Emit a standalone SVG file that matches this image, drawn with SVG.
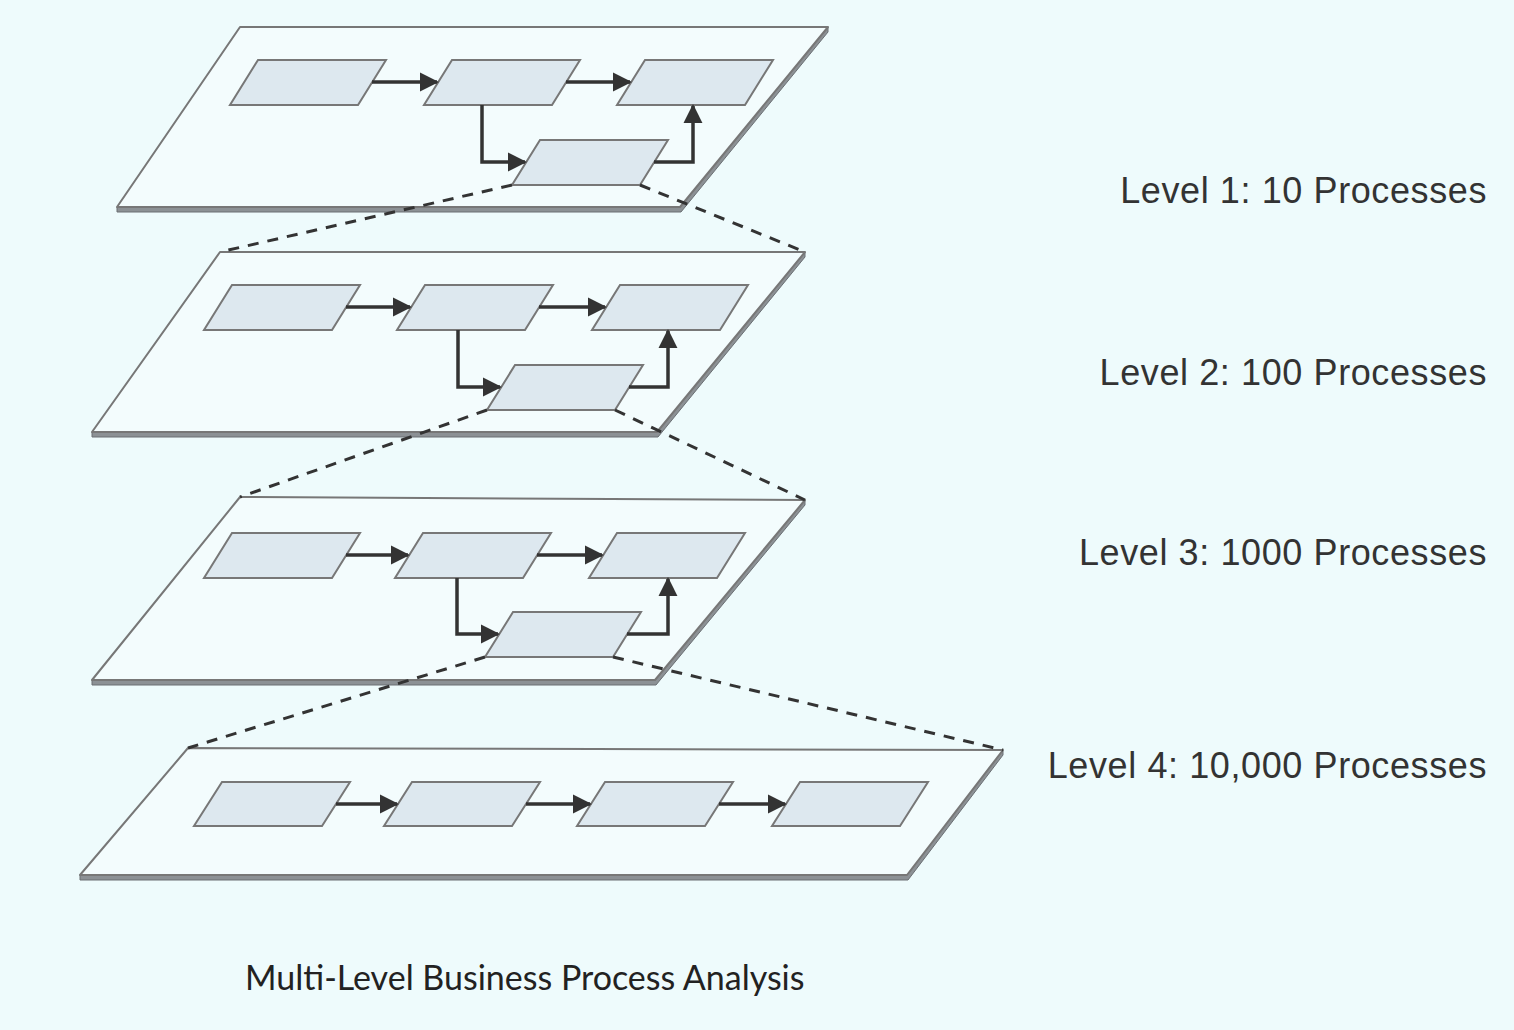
<svg xmlns="http://www.w3.org/2000/svg" width="1514" height="1030" viewBox="0 0 1514 1030">
<defs>
<marker id="ah" viewBox="0 0 10 10" refX="9" refY="5" markerWidth="5.5" markerHeight="5.5" orient="auto" markerUnits="strokeWidth">
<path d="M0,0 L10,5 L0,10 z" fill="#333"/>
</marker>
</defs>
<style>
.plane{fill:#f3fcfd;stroke:#777;stroke-width:2;stroke-linejoin:round}
.edge{fill:#8c9195;stroke:#6a6f73;stroke-width:1}
.box{fill:#dde8ef;stroke:#777;stroke-width:2}
.arr{fill:none;stroke:#333;stroke-width:3.5;marker-end:url(#ah)}
.dash{fill:none;stroke:#333;stroke-width:3;stroke-dasharray:11 9}
.lbl{font-family:"Liberation Sans",Arial,sans-serif;font-size:36px;letter-spacing:0.6px;fill:#333;text-anchor:end}
.cap{font-family:"Lato","Open Sans",sans-serif;font-size:34px;fill:#222}
</style>
<rect width="1514" height="1030" fill="#eefbfc"/>

<g id="plane1">
<polygon class="edge" points="117,207 680,207 828,27 828,32 681,212 117,212"/>
<polygon class="plane" points="240,27 828,27 680,207 117,207"/>
</g>
<g id="p1a"><polygon class="box" points="258,60 386,60 358,105 230,105"/></g>
<g id="p1b"><polygon class="box" points="452,60 580,60 552,105 424,105"/></g>
<g id="p1c"><polygon class="box" points="645,60 773,60 745,105 617,105"/></g>
<g id="p1d"><polygon class="box" points="540,140 668,140 640,185 512,185"/></g>

<g id="plane2">
<polygon class="edge" points="92,432 657,432 805,252 805,257 658,437 92,437"/>
<polygon class="plane" points="220,252 805,252 657,432 92,432"/>
</g>
<g id="p2a"><polygon class="box" points="232,285 360,285 332,330 204,330"/></g>
<g id="p2b"><polygon class="box" points="425,285 553,285 525,330 397,330"/></g>
<g id="p2c"><polygon class="box" points="620,285 748,285 720,330 592,330"/></g>
<g id="p2d"><polygon class="box" points="515,365 643,365 615,410 487,410"/></g>

<g id="plane3">
<polygon class="edge" points="92,680 655,680 805,500 805,505 656,685 92,685"/>
<polygon class="plane" points="240,497 805,500 655,680 92,680"/>
</g>
<g id="p3a"><polygon class="box" points="232,533 360,533 332,578 204,578"/></g>
<g id="p3b"><polygon class="box" points="423,533 551,533 523,578 395,578"/></g>
<g id="p3c"><polygon class="box" points="617,533 745,533 717,578 589,578"/></g>
<g id="p3d"><polygon class="box" points="513,612 641,612 613,657 485,657"/></g>

<g id="plane4">
<polygon class="edge" points="80,875 907,875 1003,750 1003,755 908,880 80,880"/>
<polygon class="plane" points="188,748 1003,750 907,875 80,875"/>
</g>
<g id="p4a"><polygon class="box" points="222,782 350,782 322,826 194,826"/></g>
<g id="p4b"><polygon class="box" points="412,782 540,782 512,826 384,826"/></g>
<g id="p4c"><polygon class="box" points="605,782 733,782 705,826 577,826"/></g>
<g id="p4d"><polygon class="box" points="800,782 928,782 900,826 772,826"/></g>

<g id="connectors">
<path class="arr" d="M372,82 L437,82"/>
<path class="arr" d="M566,82 L630,82"/>
<path class="arr" d="M482,105 L482,162 L525,162"/>
<path class="arr" d="M654,162 L693,162 L693,106"/>

<path class="arr" d="M346,307 L410,307"/>
<path class="arr" d="M539,307 L605,307"/>
<path class="arr" d="M458,330 L458,387 L500,387"/>
<path class="arr" d="M629,387 L668,387 L668,331"/>

<path class="arr" d="M346,555 L408,555"/>
<path class="arr" d="M537,555 L602,555"/>
<path class="arr" d="M457,578 L457,634 L498,634"/>
<path class="arr" d="M627,634 L668,634 L668,579"/>

<path class="arr" d="M336,804 L397,804"/>
<path class="arr" d="M526,804 L590,804"/>
<path class="arr" d="M719,804 L785,804"/>

<path class="dash" d="M512,185 L220,252"/>
<path class="dash" d="M640,185 L805,252"/>
<path class="dash" d="M487,410 L240,497"/>
<path class="dash" d="M615,410 L805,500"/>
<path class="dash" d="M485,657 L188,748"/>
<path class="dash" d="M613,657 L1003,750"/>
</g>

<g id="labels">
<text class="lbl" x="1487" y="203">Level 1: 10 Processes</text>
<text class="lbl" x="1487" y="385">Level 2: 100 Processes</text>
<text class="lbl" x="1487" y="565">Level 3: 1000 Processes</text>
<text class="lbl" x="1487" y="778">Level 4: 10,000 Processes</text>
<text class="cap" x="245" y="990">Multi-Level Business Process Analysis</text>
</g>
</svg>
